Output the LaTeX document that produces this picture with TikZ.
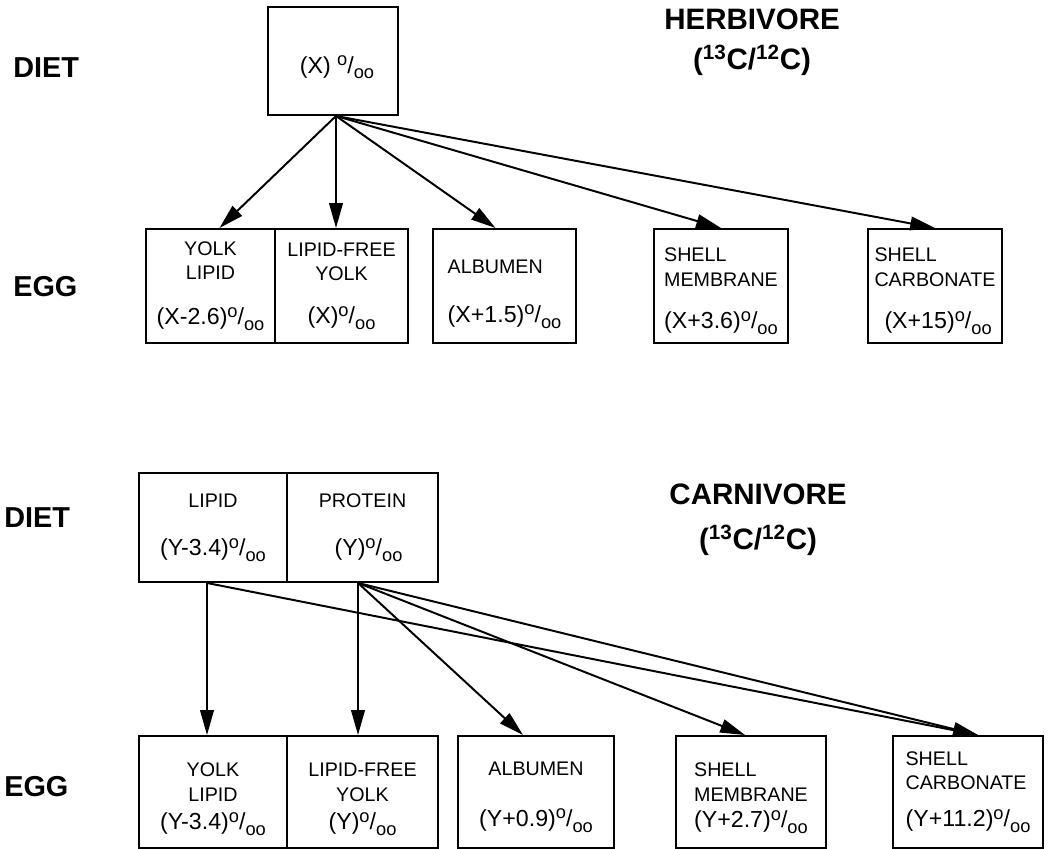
\documentclass[tikz,border=0pt]{standalone}
\usepackage{fontspec}
\setmainfont{Liberation Sans}
\usetikzlibrary{arrows.meta}
\newcommand{\perml}{\raisebox{5.3pt}{\fontsize{13}{13}\selectfont o}/\raisebox{-4pt}{\fontsize{13}{13}\selectfont oo}}
\newcommand{\valfont}{\fontsize{16.5}{18}\selectfont}

\begin{document}
\begin{tikzpicture}[
        box/.style={draw, line width=1.4pt, inner sep=0pt, align=center, font=\fontsize{14}{17.5}\selectfont},
        head/.style={anchor=base west, inner sep=0pt, font=\bfseries\fontsize{20.5}{24}\selectfont},
        title/.style={anchor=base, inner sep=0pt, font=\bfseries\fontsize{21}{25}\selectfont},
        arrow/.style={-{Triangle[length=0.62cm, width=0.34cm]}, line width=1.4pt}
    ]
    \useasboundingbox (0,0) rectangle (26.475,21.225);

    \node[head] (hdiet) at (0.325,19.275) {DIET};
    \node[head] (hegg) at (0.325,13.8) {EGG};
    \node[title] (herb) at (18.8,20.475) {HERBIVORE};
    \node[title] (herbratio) at (18.8,19.475) {(\textsuperscript{13}C/\textsuperscript{12}C)};

    \node[box, minimum width=3.25cm, minimum height=2.7cm] (hdietbox) at (8.325,19.7) {\rule{0pt}{0.75cm}\valfont\hspace*{0.2cm}(X) \perml};

    \node[box, minimum width=3.225cm, minimum height=2.85cm] (hylipid) at (5.2625,14.075) {YOLK\\LIPID\\[0.5cm]{\valfont (X-2.6)\perml}};
    \node[box, minimum width=3.325cm, minimum height=2.85cm] (hlfyolk) at (8.5375,14.075) {LIPID-FREE\\YOLK\\[0.45cm]{\valfont (X)\perml}};
    \node[box, align=left, minimum width=3.575cm, minimum height=2.85cm] (halbumen) at (12.6125,14.075) {\rule{0pt}{0.75cm}ALBUMEN\\[0.6cm]{\valfont (X+1.5)\perml}};
    \node[box, align=left, minimum width=3.35cm, minimum height=2.85cm] (hmembrane) at (18.025,14.075) {\rule{0pt}{0.6cm}SHELL\\MEMBRANE\\[0.45cm]{\valfont (X+3.6)\perml}};
    \node[box, align=left, minimum width=3.35cm, minimum height=2.85cm] (hcarbonate) at (23.375,14.075) {\rule{0pt}{0.6cm}SHELL\\CARBONATE\\[0.45cm]{\valfont\hspace*{0.25cm}(X+15)\perml}};

    \draw[arrow] ([xshift=0.075cm]hdietbox.south) -- ([xshift=0.225cm]hylipid.north);
    \draw[arrow] ([xshift=0.075cm]hdietbox.south) -- ([xshift=0.075cm]hdietbox.south |- hlfyolk.north);
    \draw[arrow] ([xshift=0.075cm]hdietbox.south) -- ([xshift=-0.225cm]halbumen.north);
    \draw[arrow] ([xshift=0.075cm]hdietbox.south) -- (hmembrane.north);
    \draw[arrow] ([xshift=0.075cm]hdietbox.south) -- (hcarbonate.north);

    \node[head] (cdiet) at (0.1,8.025) {DIET};
    \node[head] (cegg) at (0.1,1.3) {EGG};
    \node[title] (carn) at (18.95,8.6) {CARNIVORE};
    \node[title] (carnratio) at (18.95,7.475) {(\textsuperscript{13}C/\textsuperscript{12}C)};

    \node[box, minimum width=3.7cm, minimum height=2.725cm] (lipid) at (5.325,8.0375) {LIPID\\[0.6cm]{\valfont (Y-3.4)\perml}};
    \node[box, minimum width=3.775cm, minimum height=2.725cm] (protein) at (9.0625,8.0375) {PROTEIN\\[0.6cm]{\valfont\hspace*{0.3cm}(Y)\perml}};

    \node[box, minimum width=3.7cm, minimum height=2.8cm] (cylipid) at (5.325,1.425) {\rule{0pt}{0.7cm}YOLK\\LIPID\\[0.1cm]{\valfont (Y-3.4)\perml}};
    \node[box, minimum width=3.775cm, minimum height=2.8cm] (clfyolk) at (9.0625,1.425) {\rule{0pt}{0.7cm}LIPID-FREE\\YOLK\\[0.1cm]{\valfont (Y)\perml}};
    \node[box, minimum width=3.9cm, minimum height=2.8cm] (calbumen) at (13.4,1.425) {\rule{0pt}{0.6cm}ALBUMEN\\[0.65cm]{\valfont (Y+0.9)\perml}};
    \node[box, align=left, minimum width=3.75cm, minimum height=2.8cm] (cmembrane) at (18.775,1.425) {\rule{0pt}{0.65cm}SHELL\\MEMBRANE\\[0.05cm]{\valfont (Y+2.7)\perml}};
    \node[box, align=left, minimum width=3.75cm, minimum height=2.8cm] (ccarbonate) at (24.2,1.425) {SHELL\\CARBONATE\\[0.3cm]{\valfont (Y+11.2)\perml}};

    \draw[arrow] ([xshift=-0.15cm]lipid.south) -- ([xshift=-0.15cm]cylipid.north);
    \draw[arrow] ([xshift=-0.15cm]lipid.south) -- ([xshift=0.25cm]ccarbonate.north);
    \draw[arrow] ([xshift=-0.1125cm]protein.south) -- ([xshift=-0.1125cm]clfyolk.north);
    \draw[arrow] ([xshift=-0.1125cm]protein.south) -- ([xshift=-0.325cm]calbumen.north);
    \draw[arrow] ([xshift=-0.1125cm]protein.south) -- ([xshift=-0.15cm]cmembrane.north);
    \draw[arrow] ([xshift=-0.1125cm]protein.south) -- ([xshift=0.25cm]ccarbonate.north);

\end{tikzpicture}
\end{document}
